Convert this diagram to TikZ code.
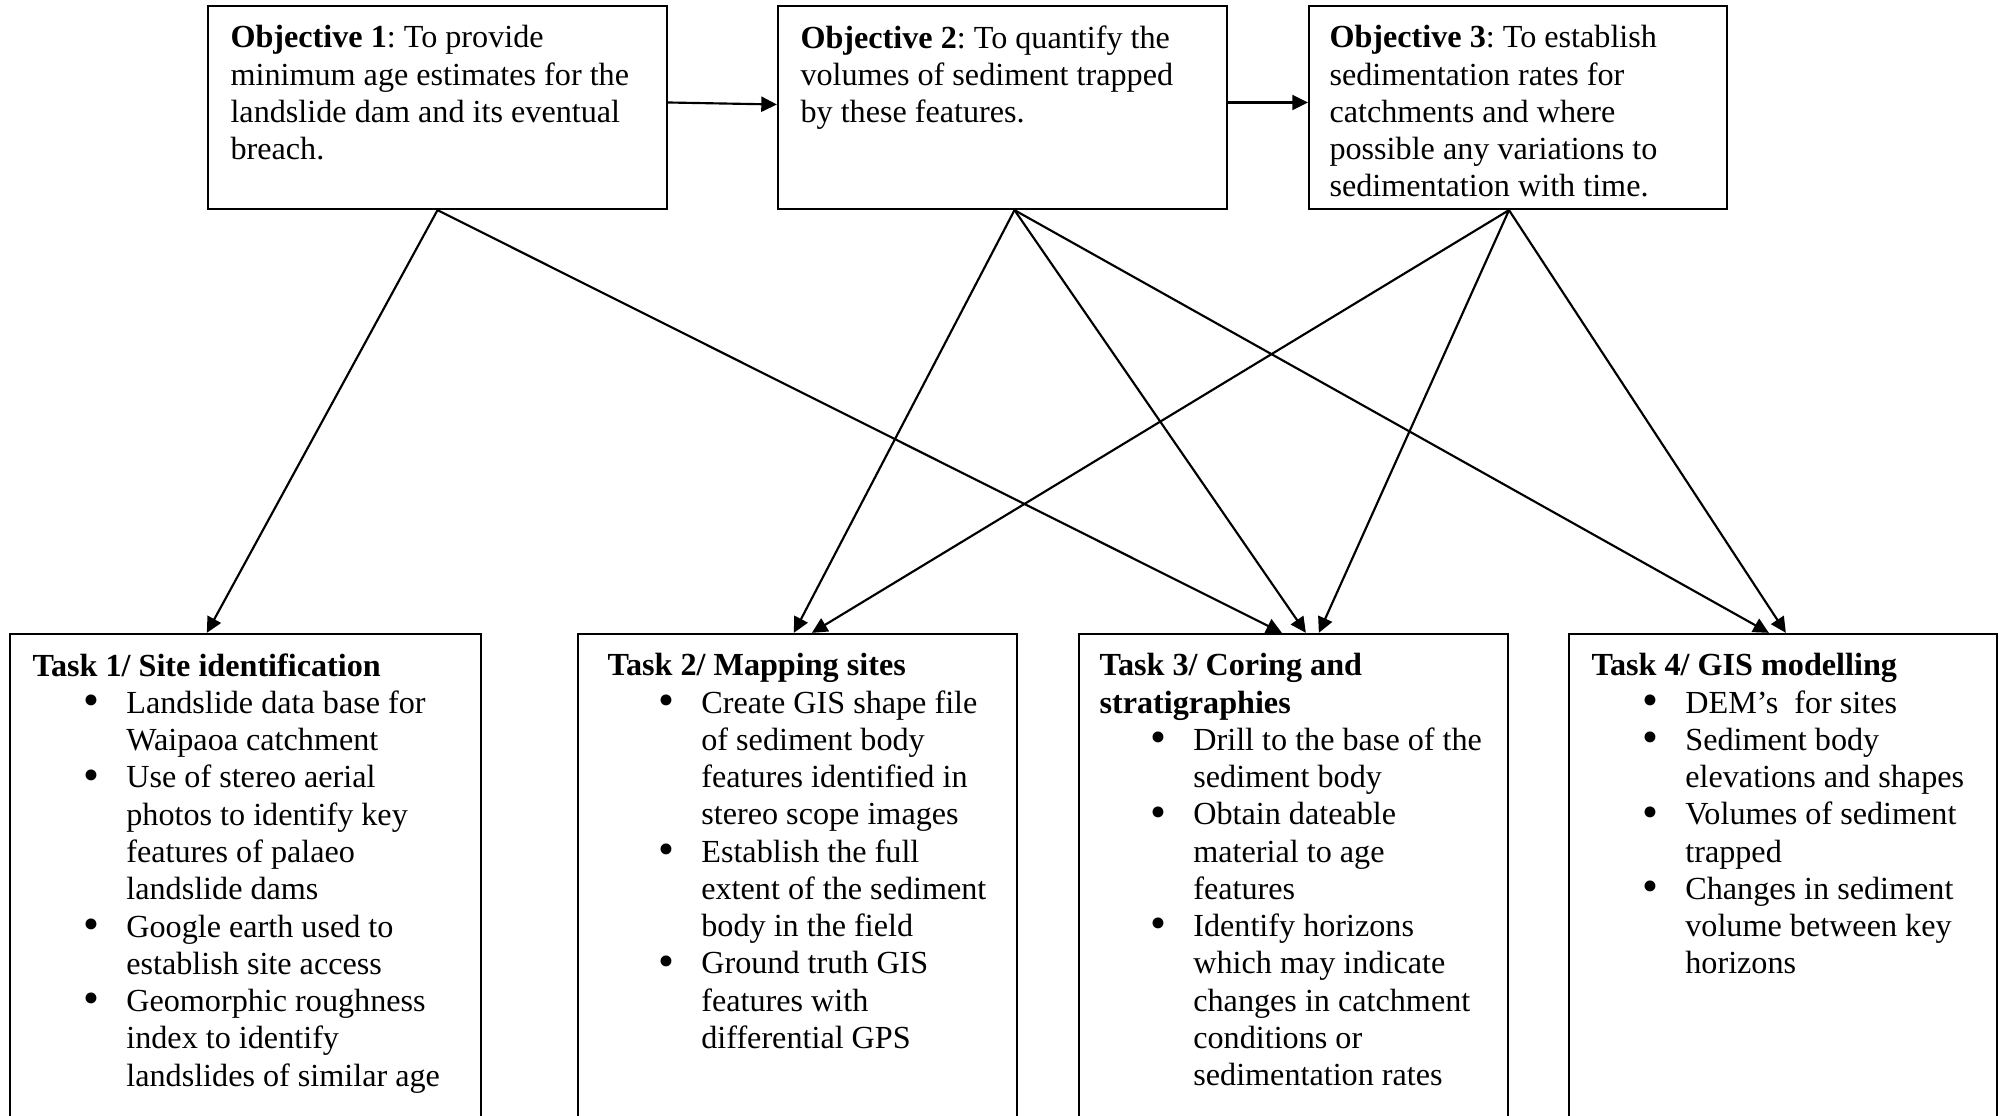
\documentclass[tikz,border=0pt]{standalone}
\usepackage{fontspec}
\setmainfont{Liberation Serif}
\usetikzlibrary{arrows.meta,calc,fit}
\frenchspacing
\newcommand{\itm}{\hspace*{19pt}\makebox[16pt][l]{\raisebox{-0.15ex}{\fontsize{17}{14}\selectfont\textbullet}}}
\newcommand{\ind}{\hspace*{35pt}}
\tikzset{
  box/.style={draw, line width=0.85pt, inner sep=0pt},
  txt/.style={anchor=north west, inner sep=0pt, align=left, font=\fontsize{12}{13.9}\selectfont},
  arr/.style={-{Triangle[length=5.8pt,width=5.6pt]}, line width=0.8pt}
}
\begin{document}
\begin{tikzpicture}[x=0.373pt,y=-0.373pt]
      \useasboundingbox (0,0) rectangle (2000,1116);
      % objectives
      \node[box, fit={(208,6) (667,209)}] (obj1) {};
      \node[box, fit={(778,6) (1227,209)}] (obj2) {};
      \node[box, fit={(1309,6) (1727,209)}] (obj3) {};
      \node[txt] (obj1t) at (230,25) {\textbf{Objective 1}: To provide\\
        minimum age estimates for the\\ landslide dam and its eventual\\ breach.};
      \node[txt] (obj2t) at (800,25) {\textbf{Objective 2}: To quantify the\\
        volumes of sediment trapped\\ by these features.};
      \node[txt] (obj3t) at (1329,25) {\textbf{Objective 3}: To establish\\
        sedimentation rates for\\ catchments and where\\ possible any variations to\\
        sedimentation with time.};
      % tasks
      \node[box, fit={(10,634) (481,1130)}] (task1) {};
      \node[box, fit={(578,634) (1017,1130)}] (task2) {};
      \node[box, fit={(1079,634) (1508,1130)}] (task3) {};
      \node[box, fit={(1569,634) (1997,1130)}] (task4) {};
      \node[txt] (task1t) at (32,653) {\textbf{Task 1/ Site identification}\\
        \itm Landslide data base for\\ \ind Waipaoa catchment\\
        \itm Use of stereo aerial\\ \ind photos to identify key\\ \ind features of palaeo\\ \ind landslide dams\\
        \itm Google earth used to\\ \ind establish site access\\
        \itm Geomorphic roughness\\ \ind index to identify\\ \ind landslides of similar age};
      \node[txt] (task2t) at (607,653) {\textbf{Task 2/ Mapping sites}\\
        \itm Create GIS shape file\\ \ind of sediment body\\ \ind features identified in\\ \ind stereo scope images\\
        \itm Establish the full\\ \ind extent of the sediment\\ \ind body in the field\\
        \itm Ground truth GIS\\ \ind features with\\ \ind differential GPS};
      \node[txt] (task3t) at (1099,653) {\textbf{Task 3/ Coring and}\\ \textbf{stratigraphies}\\
        \itm Drill to the base of the\\ \ind sediment body\\
        \itm Obtain dateable\\ \ind material to age\\ \ind features\\
        \itm Identify horizons\\ \ind which may indicate\\ \ind changes in catchment\\ \ind conditions or\\ \ind sedimentation rates};
      \node[txt] (task4t) at (1591,653) {\textbf{Task 4/ GIS modelling}\\
        \itm DEM’s \ for sites\\
        \itm Sediment body\\ \ind elevations and shapes\\
        \itm Volumes of sediment\\ \ind trapped\\
        \itm Changes in sediment\\ \ind volume between key\\ \ind horizons};
      \begin{scope}[arr]
        \draw ($(obj1.east)+(0,-5)$) to ($(obj2.west)+(0,-3)$);
        \draw ($(obj2.east)+(0,-5)$) to ($(obj3.west)+(0,-5)$);
        \draw (obj1.south) to ($(task1.north west)+(198,0)$);
        \draw (obj1.south) to ($(task3.north west)+(204,0)$);
        \draw ($(obj2.south)+(12,0)$) to ($(task2.north west)+(217,0)$);
        \draw ($(obj2.south)+(12,0)$) to ($(task3.north west)+(228,0)$);
        \draw ($(obj2.south)+(12,0)$) to ($(task4.north west)+(201,0)$);
        \draw ($(obj3.south)+(-9,0)$) to ($(task2.north west)+(235,0)$);
        \draw ($(obj3.south)+(-9,0)$) to ($(task3.north west)+(241,0)$);
        \draw ($(obj3.south)+(-9,0)$) to ($(task4.north west)+(218,0)$);
      \end{scope}
    \end{tikzpicture}
\end{document}
